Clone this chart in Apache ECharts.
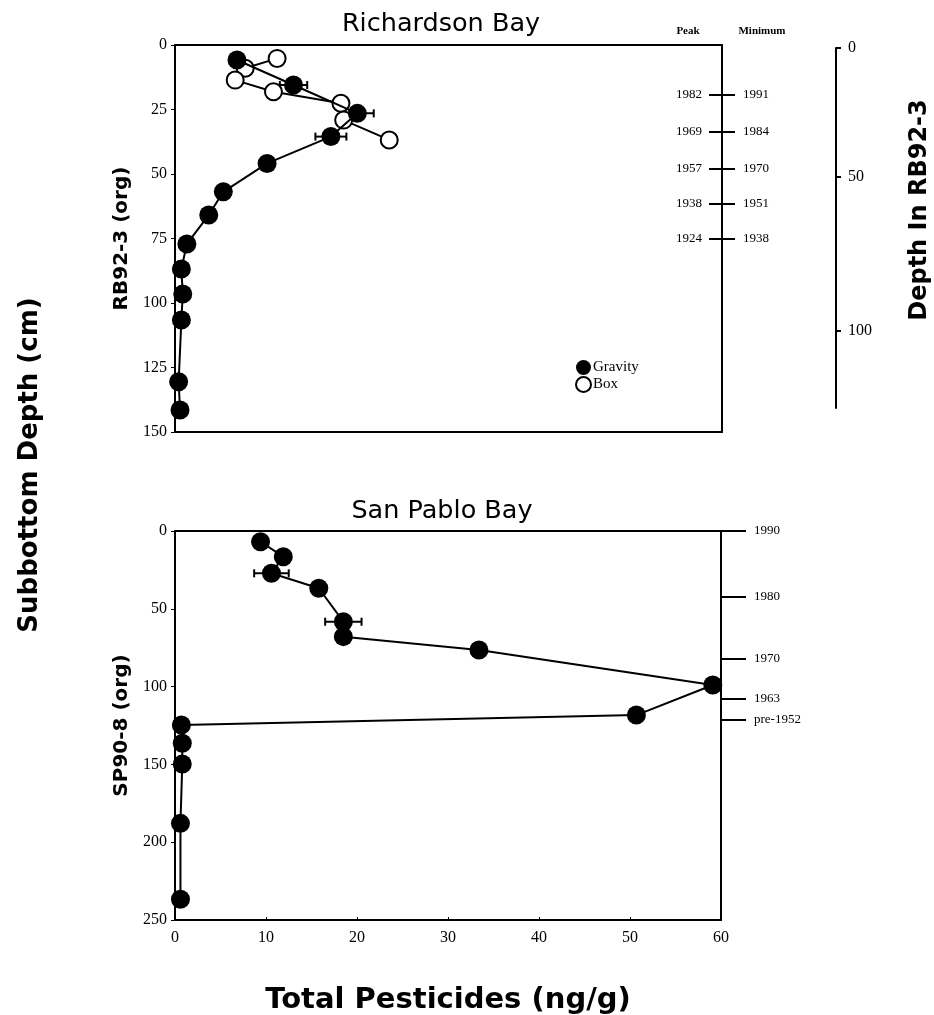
<!DOCTYPE html>
<html><head><meta charset="utf-8">
<script src="https://cdn.jsdelivr.net/npm/echarts@6/dist/echarts.min.js"></script>
<style>html,body{margin:0;padding:0;background:#fff}#c{width:934px;height:1015px}</style>
</head><body><div id="c"></div>
<script>
// ---- Data ----
// Richardson Bay, core RB92-3: gravity core (filled) and box core (open)
const rbGravityConc  = [6.8, 13.0, 20.0, 17.1, 10.1, 5.3, 3.7, 1.3, 0.7, 0.85, 0.7, 0.4, 0.55];
const rbGravityDepth = [5.8, 15.5, 26.5, 35.5, 45.9, 56.9, 65.9, 77.1, 86.8, 96.5, 106.6, 130.5, 141.5];
const rbBoxConc  = [11.2, 7.7, 6.6, 10.8, 18.2, 18.5, 23.5];
const rbBoxDepth = [5.2, 9.0, 13.6, 18.1, 22.6, 29.1, 36.8];
// error bars: [conc, depth, +/-]
const rbErrConc  = [13.0, 20.0, 17.1];
const rbErrDepth = [15.5, 26.5, 35.5];
const rbErrHalf  = [1.5, 1.8, 1.7];
// date markers on right edge of Richardson Bay panel
const rbMarkDepth   = [19.4, 33.6, 47.8, 61.4, 75.0];
const rbPeakYears   = ['1982', '1969', '1957', '1938', '1924'];
const rbMinYears    = ['1991', '1984', '1970', '1951', '1938'];
// RB92-3 depth scale (right): RB92-3 depth labels and the subbottom depth they align with
const rbScaleLabels = ['0', '50', '100'];
const rbScaleAt     = [0, 50, 110];

// San Pablo Bay, core SP90-8
const spConc  = [9.4, 11.9, 10.6, 15.8, 18.5, 18.5, 33.4, 59.1, 50.7, 0.7, 0.8, 0.8, 0.6, 0.6];
const spDepth = [6.9, 16.5, 27.2, 36.8, 58.3, 67.9, 76.5, 99.0, 118.3, 124.7, 136.4, 149.7, 187.9, 236.7];
const spErrConc  = [10.6, 18.5];
const spErrDepth = [27.2, 58.3];
const spErrHalf  = [1.9, 2.0];
const spMarkDepth = [0, 42.2, 81.8, 107.5, 121.5];
const spYears     = ['1990', '1980', '1970', '1963', 'pre-1952'];

// Axis ticks
const xTicks = [0, 10, 20, 30, 40, 50, 60];
const rbDepthTicks = [0, 25, 50, 75, 100, 125, 150];
const spDepthTicks = [0, 50, 100, 150, 200, 250];

// ---- Build ----
const pairs = (a, b) => a.map((v, i) => [v, b[i]]);
const triples = (a, b, c) => a.map((v, i) => [v, b[i], c[i]]);
const SERIF = 'Liberation Serif';
const SANS = 'DejaVu Sans';
const black = '#000';

function errItem(params, api) {
  const x = api.value(0), y = api.value(1), e = api.value(2);
  const p1 = api.coord([x - e, y]), p2 = api.coord([x + e, y]);
  const h = 4, st = { stroke: black, lineWidth: 2 };
  return { type: 'group', children: [
    { type: 'line', shape: { x1: p1[0], y1: p1[1], x2: p2[0], y2: p2[1] }, style: st },
    { type: 'line', shape: { x1: p1[0], y1: p1[1] - h, x2: p1[0], y2: p1[1] + h }, style: st },
    { type: 'line', shape: { x1: p2[0], y1: p2[1] - h, x2: p2[0], y2: p2[1] + h }, style: st }
  ]};
}

const lineAx = { show: true, onZero: false, lineStyle: { color: black, width: 2 } };
const noLine = { show: false, onZero: false };
const noTick = { show: false };
const noLab = { show: false };
const noSplit = { show: false };

const chart = echarts.init(document.getElementById('c'), null, { renderer: 'canvas' });
chart.setOption({
  animation: false,
  backgroundColor: '#fff',
  grid: [
    { left: 175, top: 45, width: 547, height: 387, outerBoundsMode: 'none' },
    { left: 175, top: 531, width: 546, height: 389, outerBoundsMode: 'none' },
    { left: 826, top: 48, width: 10, height: 360, outerBoundsMode: 'none' }
  ],
  xAxis: [
    { gridIndex: 0, type: 'value', min: 0, max: 60, position: 'bottom', axisLine: lineAx, axisTick: noTick, axisLabel: noLab, splitLine: noSplit },
    { gridIndex: 1, type: 'value', min: 0, max: 60, interval: 10, position: 'bottom', axisLine: lineAx,
      axisTick: { show: true, inside: true, length: 3, customValues: xTicks, lineStyle: { color: black } },
      axisLabel: { show: true, color: black, fontFamily: SERIF, fontSize: 16, margin: 10, customValues: xTicks },
      splitLine: noSplit,
      name: 'Total Pesticides (ng/g)', nameLocation: 'middle', nameGap: 66,
      nameTextStyle: { fontFamily: SANS, fontWeight: 'bold', fontSize: 29, color: black } },
    { gridIndex: 0, type: 'value', min: 0, max: 60, position: 'top', axisLine: lineAx, axisTick: noTick, axisLabel: noLab, splitLine: noSplit },
    { gridIndex: 1, type: 'value', min: 0, max: 60, position: 'top', axisLine: lineAx, axisTick: noTick, axisLabel: noLab, splitLine: noSplit },
    { gridIndex: 2, type: 'value', show: false, min: 0, max: 1, axisLine: noLine }
  ],
  yAxis: [
    { gridIndex: 0, type: 'value', inverse: true, min: 0, max: 150, interval: 25, position: 'left',
      axisLine: lineAx, axisTick: { show: true, length: 4, customValues: rbDepthTicks, lineStyle: { color: black } },
      axisLabel: { color: black, fontFamily: SERIF, fontSize: 16, margin: 8, customValues: rbDepthTicks }, splitLine: noSplit,
      name: 'RB92-3 (org)', nameLocation: 'middle', nameGap: 36, nameRotate: 90,
      nameTextStyle: { fontFamily: SANS, fontWeight: 'bold', fontSize: 20, color: black } },
    { gridIndex: 0, type: 'value', inverse: true, min: 0, max: 150, position: 'right',
      axisLine: lineAx,
      axisTick: { show: true, inside: true, length: 13, customValues: rbMarkDepth, lineStyle: { color: black, width: 2 } },
      axisLabel: { show: true, inside: true, margin: 20, customValues: rbMarkDepth,
        formatter: v => rbPeakYears[rbMarkDepth.indexOf(v)] || '',
        color: black, fontFamily: SERIF, fontSize: 13 },
      splitLine: noSplit },
    { gridIndex: 0, type: 'value', inverse: true, min: 0, max: 150, position: 'right',
      axisLine: noLine,
      axisTick: { show: true, inside: false, length: 13, customValues: rbMarkDepth, lineStyle: { color: black, width: 2 } },
      axisLabel: { show: true, margin: 21, customValues: rbMarkDepth,
        formatter: v => rbMinYears[rbMarkDepth.indexOf(v)] || '',
        color: black, fontFamily: SERIF, fontSize: 13 },
      splitLine: noSplit },
    { gridIndex: 2, type: 'value', inverse: true, min: 0, max: 140, position: 'right',
      axisLine: lineAx,
      axisTick: { show: true, length: 5, customValues: rbScaleAt, lineStyle: { color: black, width: 2 } },
      axisLabel: { show: true, margin: 12, customValues: rbScaleAt,
        formatter: v => rbScaleLabels[rbScaleAt.indexOf(v)] || '',
        color: black, fontFamily: SERIF, fontSize: 16 },
      splitLine: noSplit },
    { gridIndex: 1, type: 'value', inverse: true, min: 0, max: 250, interval: 50, position: 'left',
      axisLine: lineAx, axisTick: { show: true, length: 4, customValues: spDepthTicks, lineStyle: { color: black } },
      axisLabel: { color: black, fontFamily: SERIF, fontSize: 16, margin: 8, customValues: spDepthTicks }, splitLine: noSplit,
      name: 'SP90-8 (org)', nameLocation: 'middle', nameGap: 36, nameRotate: 90,
      nameTextStyle: { fontFamily: SANS, fontWeight: 'bold', fontSize: 20, color: black } },
    { gridIndex: 1, type: 'value', inverse: true, min: 0, max: 250, position: 'right',
      axisLine: lineAx,
      axisTick: { show: true, inside: false, length: 25, customValues: spMarkDepth, lineStyle: { color: black, width: 2 } },
      axisLabel: { show: true, margin: 33, customValues: spMarkDepth,
        formatter: v => spYears[spMarkDepth.indexOf(v)] || '',
        color: black, fontFamily: SERIF, fontSize: 13 },
      splitLine: noSplit }
  ],
  legend: {
    data: ['Gravity', 'Box'], orient: 'vertical', left: 575, top: 360, padding: 0,
    itemWidth: 15, itemHeight: 15, itemGap: 1, icon: 'circle',
    textStyle: { fontFamily: SERIF, fontSize: 15, color: black, padding: [0, 0, 0, -3] }
  },
  graphic: [
    { type: 'text', x: 441, y: 24, style: { text: 'Richardson Bay', fontFamily: SANS, fontSize: 25.5, fill: black, align: 'center', verticalAlign: 'middle' } },
    { type: 'text', x: 442, y: 511, style: { text: 'San Pablo Bay', fontFamily: SANS, fontSize: 25.5, fill: black, align: 'center', verticalAlign: 'middle' } },
    { type: 'text', x: 688, y: 31, style: { text: 'Peak', fontFamily: SERIF, fontWeight: 'bold', fontSize: 11, fill: black, align: 'center', verticalAlign: 'middle' } },
    { type: 'text', x: 762, y: 31, style: { text: 'Minimum', fontFamily: SERIF, fontWeight: 'bold', fontSize: 11, fill: black, align: 'center', verticalAlign: 'middle' } },
    { type: 'text', x: 30, y: 465, rotation: Math.PI / 2, style: { text: 'Subbottom Depth (cm)', fontFamily: SANS, fontWeight: 'bold', fontSize: 26, fill: black, align: 'center', verticalAlign: 'middle' } },
    { type: 'text', x: 920, y: 210, rotation: Math.PI / 2, style: { text: 'Depth In RB92-3', fontFamily: SANS, fontWeight: 'bold', fontSize: 24, fill: black, align: 'center', verticalAlign: 'middle' } }
  ],
  series: [
    { type: 'custom', name: 'rbErr', xAxisIndex: 0, yAxisIndex: 0, z: 1, renderItem: errItem,
      encode: { x: 0, y: 1 }, data: triples(rbErrConc, rbErrDepth, rbErrHalf) },
    { type: 'line', name: 'Gravity', xAxisIndex: 0, yAxisIndex: 0, z: 3,
      data: pairs(rbGravityConc, rbGravityDepth), symbol: 'circle', symbolSize: 19, showAllSymbol: true,
      itemStyle: { color: black }, lineStyle: { color: black, width: 2 } },
    { type: 'line', name: 'Box', xAxisIndex: 0, yAxisIndex: 0, z: 2,
      data: pairs(rbBoxConc, rbBoxDepth), symbol: 'circle', symbolSize: 17, showAllSymbol: true,
      itemStyle: { color: '#fff', borderColor: black, borderWidth: 2 }, lineStyle: { color: black, width: 2 } },
    { type: 'custom', name: 'spErr', xAxisIndex: 1, yAxisIndex: 4, z: 1, renderItem: errItem,
      encode: { x: 0, y: 1 }, data: triples(spErrConc, spErrDepth, spErrHalf) },
    { type: 'line', name: 'SP90-8', xAxisIndex: 1, yAxisIndex: 4, z: 3,
      data: pairs(spConc, spDepth), symbol: 'circle', symbolSize: 19, showAllSymbol: true,
      itemStyle: { color: black }, lineStyle: { color: black, width: 2 } }
  ]
});
</script></body></html>
